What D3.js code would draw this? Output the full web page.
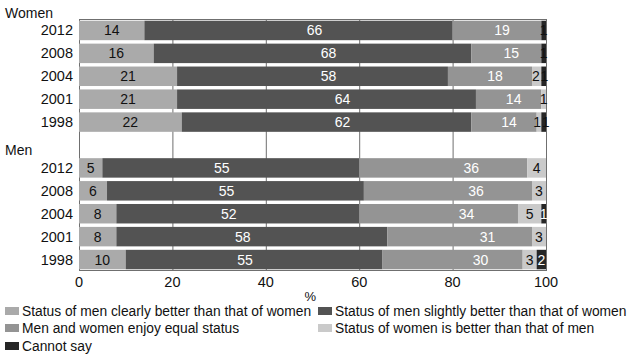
<!DOCTYPE html>
<html><head><meta charset="utf-8">
<script src="https://cdn.jsdelivr.net/npm/d3@7"></script>
<style>body{margin:0;background:#fff}svg{display:block}text{font-family:"Liberation Sans",Arial,sans-serif}</style>
</head><body><svg id="c" width="634" height="359"></svg>
<script>
// ---- data ----
const years = ["2012","2008","2004","2001","1998"];
const groups = ["Women","Men"];
const seriesNames = [
  "Status of men clearly better than that of women",
  "Status of men slightly better than that of women",
  "Men and women enjoy equal status",
  "Status of women is better than that of men",
  "Cannot say"
];
// values per year (2012, 2008, 2004, 2001, 1998)
const womenClearly  = [14, 16, 21, 21, 22];
const womenSlightly = [66, 68, 58, 64, 62];
const womenEqual    = [19, 15, 18, 14, 14];
const womenWomenBet = [0, 0, 2, 1, 1];
const womenCannot   = [1, 1, 1, 0, 1];
const menClearly    = [5, 6, 8, 8, 10];
const menSlightly   = [55, 55, 52, 58, 55];
const menEqual      = [36, 36, 34, 31, 30];
const menWomenBet   = [4, 3, 5, 3, 3];
const menCannot     = [0, 0, 1, 0, 2];
const xTicks = [0, 20, 40, 60, 80, 100];

const colors = ["#aaaaaa", "#535353", "#949494", "#cacaca", "#262626"];
const labelColors = {Women: ["#111","#fff","#fff","#111","#111"], Men: ["#111","#fff","#fff","#111","#fff"]};
const labelDx = {Women: [0, 16, 5, 0, 0], Men: [0, -9, 28, 0, 0]};

const dataBy = {
  Women: [womenClearly, womenSlightly, womenEqual, womenWomenBet, womenCannot],
  Men: [menClearly, menSlightly, menEqual, menWomenBet, menCannot]
};

// ---- build rows ----
const rows = [];
groups.forEach(g => years.forEach((yr, i) => {
  const vals = dataBy[g].map(a => a[i]);
  let acc = 0;
  const segs = vals.map((v, s) => { const seg = {s, v, x0: acc, x1: acc + v}; acc += v; return seg; });
  rows.push({key: g + yr, group: g, year: yr, segs});
}));
const bandKeys = [...years.map(yr => "Women" + yr), "gap", ...years.map(yr => "Men" + yr)];

const svg = d3.select("#c");
const x = d3.scaleLinear().domain([0, 100]).range([79, 546]);
const y = d3.scaleBand().domain(bandKeys).range([19, 271]).paddingInner(0.15).paddingOuter(0.075);
const plotTop = 19, plotBottom = 270;

// gridlines
svg.append("g").selectAll("line").data(xTicks).join("line")
  .attr("x1", d => x(d) + 0.5).attr("x2", d => x(d) + 0.5)
  .attr("y1", plotTop).attr("y2", plotBottom)
  .attr("stroke", "#6f6f6f").attr("stroke-width", 1);
svg.append("line").attr("x1", x(0)).attr("x2", x(100) + 1).attr("y1", plotTop + 0.5).attr("y2", plotTop + 0.5).attr("stroke", "#6f6f6f");
svg.append("line").attr("x1", x(0)).attr("x2", x(100) + 1).attr("y1", plotBottom + 0.5).attr("y2", plotBottom + 0.5).attr("stroke", "#6f6f6f");

// bars
const rowG = svg.append("g").selectAll("g").data(rows).join("g")
  .attr("transform", d => `translate(0,${y(d.key)})`);
rowG.selectAll("rect").data(d => d.segs.filter(s => s.v > 0)).join("rect")
  .attr("x", s => x(s.x0)).attr("width", s => x(s.x1) - x(s.x0))
  .attr("y", 0).attr("height", y.bandwidth())
  .attr("fill", s => colors[s.s]);
rowG.each(function(d) {
  const labs = d.segs.filter(s => s.v > 0).map(s => ({s: s.s, v: s.v, lx: (x(s.x0) + x(s.x1)) / 2 + labelDx[d.group][s.s]}));
  // simple collision avoidance between neighbouring small labels
  for (let k = 1; k < labs.length; k++) {
    const gap = labs[k].lx - labs[k - 1].lx;
    const minGap = 8.5;
    if (gap < minGap) { const push = (minGap - gap) / 2; labs[k - 1].lx -= push; labs[k].lx += push; }
  }
  d3.select(this).selectAll("text").data(labs).join("text")
    .attr("x", l => l.lx)
    .attr("y", y.bandwidth() / 2 + 5)
    .attr("text-anchor", "middle")
    .attr("font-size", 14)
    .attr("fill", l => labelColors[d.group][l.s])
    .text(l => l.v);
});

// year labels
svg.append("g").selectAll("text").data(rows).join("text")
  .attr("x", 73).attr("y", d => y(d.key) + y.bandwidth() / 2 + 5)
  .attr("text-anchor", "end").attr("font-size", 14.5).attr("fill", "#111")
  .text(d => d.year);
// group labels
svg.append("text").attr("x", 5).attr("y", 18).attr("font-size", 14).attr("fill", "#111").text(groups[0]);
svg.append("text").attr("x", 5).attr("y", y("gap") + y.bandwidth() / 2 + 10).attr("font-size", 14).attr("fill", "#111").text(groups[1]);

// x axis tick labels
svg.append("g").selectAll("text").data(xTicks).join("text")
  .attr("x", d => x(d)).attr("y", 287).attr("text-anchor", "middle")
  .attr("font-size", 14.5).attr("fill", "#111").text(d => d);
svg.append("text").attr("x", x(49.5)).attr("y", 301).attr("text-anchor", "middle")
  .attr("font-size", 13).attr("fill", "#111").text("%");

// legend
const legPos = [[5, 311], [318, 311], [5, 328], [318, 328], [5, 346]];
const leg = svg.append("g").selectAll("g").data(seriesNames).join("g")
  .attr("transform", (d, i) => `translate(${legPos[i][0]},${legPos[i][1]})`);
leg.append("rect").attr("x", 0).attr("y", -4).attr("width", 14).attr("height", 8).attr("fill", (d, i) => colors[i]);
leg.append("text").attr("x", 17).attr("y", 5).attr("font-size", 13.8).attr("fill", "#111").text(d => d);
</script></body></html>
